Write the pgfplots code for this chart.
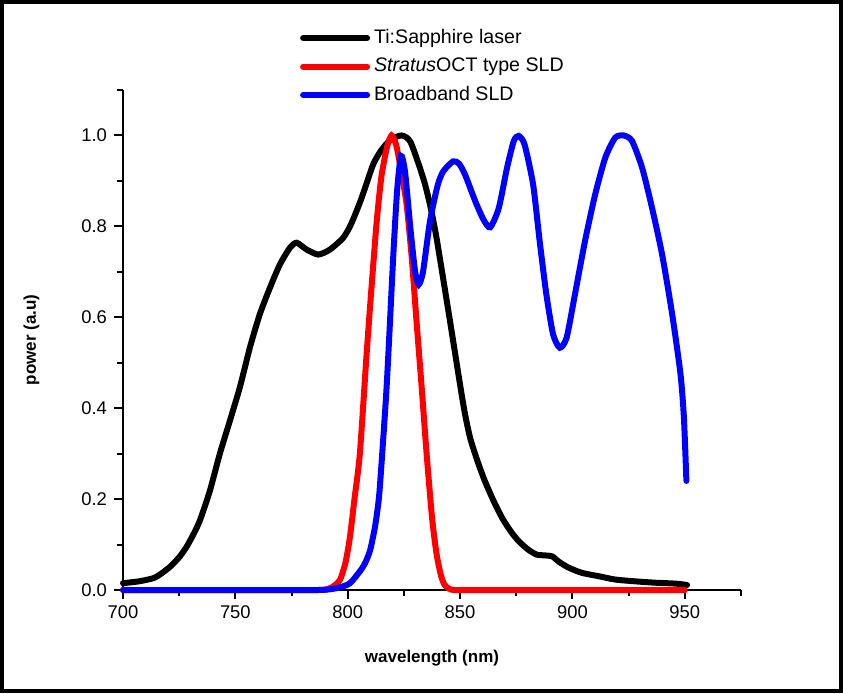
\documentclass[border=0pt]{standalone}
\usepackage{pgfplots}
\pgfplotsset{compat=1.18}
\usepackage{fontspec}
\setmainfont{Liberation Sans}

\pgfplotstableread{
nm    p
700   0.015
707   0.019
713.5 0.026
717   0.036
720.9 0.051
725   0.072
728.3 0.095
731.5 0.124
734.3 0.154
738.7 0.219
743.1 0.300
747.6 0.373
752   0.446
756.5 0.534
760.9 0.607
765.4 0.665
769.8 0.716
774.3 0.753
777.3 0.764
781.7 0.749
786.9 0.738
792.1 0.749
798   0.775
801.5 0.805
806   0.860
811.3 0.936
815   0.968
819   0.990
824   1.000
828   0.985
833.6 0.906
836.5 0.850
839.5 0.775
845.5 0.592
851.4 0.409
854.4 0.336
858   0.280
861   0.240
865   0.195
869   0.156
873   0.126
876   0.108
880   0.090
884   0.078
888   0.076
891   0.074
894   0.062
898   0.050
904   0.038
912   0.030
919   0.023
928   0.019
937   0.016
946   0.014
951   0.011
}\tisapphire

\pgfplotstableread{
nm    p
700   0
780   0
787   0
790   0.001
793   0.006
796.5 0.022
799   0.060
801   0.117
803   0.200
805.4 0.300
808.4 0.519
810.5 0.660
812.9 0.811
815   0.910
817.5 0.975
819.5 1.000
821.5 0.980
823.5 0.930
826.2 0.848
828.5 0.730
830.6 0.592
833   0.440
835.1 0.300
837.5 0.160
839.5 0.080
841.5 0.032
843   0.012
845   0.003
847   0
850   0
860   0
950   0
}\stratus

\pgfplotstableread{
nm    p
700   0
780   0
787   0
791   0.001
796   0.005
801   0.015
806   0.045
808   0.062
810   0.088
812   0.135
813.2 0.175
814.3 0.227
817.3 0.446
820.3 0.738
822   0.880
823.7 0.955
825.5 0.920
828   0.790
830   0.700
831.6 0.672
833.5 0.700
836.6 0.811
840   0.890
842.5 0.921
846.9 0.943
849.5 0.938
852.2 0.914
856.7 0.856
860.4 0.815
863.4 0.798
867.2 0.840
870.9 0.929
873.9 0.988
876.1 0.999
878.7 0.980
882.5 0.892
885.4 0.768
888.4 0.650
891.4 0.562
894.4 0.533
897.4 0.555
901.1 0.650
905.6 0.768
910.1 0.870
914.6 0.951
919   0.995
922.8 1.000
926.5 0.988
931   0.929
935.4 0.841
939.9 0.738
944.4 0.606
948.1 0.474
949.6 0.379
950.7 0.240
}\broadband

\begin{document}
\begin{tikzpicture}
\draw[line width=2pt] (1pt,1pt) rectangle (420.5pt,345.5pt);
\begin{axis}[
    at={(61.5pt,51.5pt)}, anchor=south west,
    scale only axis, width=309pt, height=250pt,
    xmin=700, xmax=975, ymin=0, ymax=1.1,
    axis lines=left,
    axis line style={-, line width=1pt},
    xtick={700,750,...,950},
    ytick={0,0.2,...,1.0},
    minor xtick={725,775,...,975},
    minor ytick={0.1,0.3,...,1.1},
    tick align=outside,
    major tick length=4.5pt, minor tick length=3pt,
    tick style={line width=1pt, black},
    /pgf/number format/assume math mode=true,
    yticklabel style={/pgf/number format/.cd, fixed, fixed zerofill, precision=1},
    xticklabel style={/pgf/number format/.cd, fixed, set thousands separator={}},
    tick label style={font=\fontsize{9.2}{11}\selectfont},
    xlabel={wavelength (nm)},
    ylabel={power (a.u)},
    label style={font=\fontsize{8.5}{10}\selectfont\bfseries},
    xlabel style={at={(axis description cs:0.5,-0.136)}, anchor=center},
    ylabel style={at={(axis description cs:-0.148,0.5)}, anchor=center},
    clip=false,
    legend cell align=left,
    legend style={at={(0.286,1.13)}, anchor=north west, draw=none, fill=none,
        font=\fontsize{9.8}{11}\selectfont, row sep=1.8pt, inner sep=0pt},
    legend image code/.code={\draw[line width=3pt, line cap=round, #1] (0pt,0pt) -- (32pt,0pt);},
]
\addplot[black, line width=3pt, smooth, tension=0.4, line cap=round] table[x=nm, y=p] {\tisapphire};
\addlegendentry{Ti:Sapphire laser}
\addplot[red, line width=3pt, smooth, tension=0.4, line cap=round] table[x=nm, y=p] {\stratus};
\addlegendentry{\textit{Stratus}OCT type SLD}
\addplot[blue, line width=3pt, smooth, tension=0.4, line cap=round] table[x=nm, y=p] {\broadband};
\addlegendentry{Broadband SLD}
\end{axis}
\end{tikzpicture}
\end{document}
